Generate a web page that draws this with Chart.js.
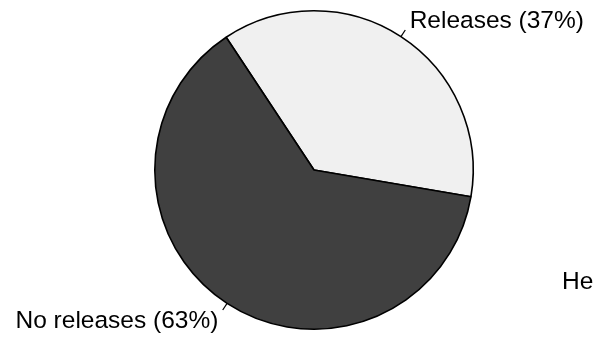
<!DOCTYPE html>
<html>
<head>
<meta charset="utf-8">
<script src="https://cdn.jsdelivr.net/npm/chart.js@4"></script>
<style>
  html, body { margin: 0; padding: 0; background: #fff; }
  #wrap { width: 593px; height: 340px; position: relative; }
</style>
</head>
<body>
<div id="wrap"><canvas id="pie"></canvas></div>
<script>
// release share data
const categories = ['Releases', 'No releases'];
const shares = [37, 63];
const sliceColors = ['#f0f0f0', '#404040'];
const strayText = 'He';

const FONT = '24.5px "Liberation Sans", Arial, sans-serif';

// leader ticks + labels placed just outside each slice
const pieLabels = {
    id: 'pieLabels',
    afterDatasetsDraw(chart) {
        const ctx = chart.ctx;
        const arcs = chart.getDatasetMeta(0).data;
        ctx.save();
        ctx.font = FONT;
        ctx.fillStyle = '#000';
        ctx.strokeStyle = '#000';
        ctx.lineWidth = 1.2;
        arcs.forEach((arc, i) => {
            const mid = (arc.startAngle + arc.endAngle) / 2;
            const r = arc.outerRadius;
            const cx = Math.cos(mid), cy = Math.sin(mid);
            ctx.beginPath();
            ctx.moveTo(arc.x + cx * r, arc.y + cy * r);
            ctx.lineTo(arc.x + cx * r * 1.05, arc.y + cy * r * 1.05);
            ctx.stroke();
            const tx = arc.x + cx * r * 1.1;
            const ty = arc.y + cy * r * 1.125 + 1;
            ctx.textAlign = cx >= 0 ? 'left' : 'right';
            ctx.textBaseline = 'middle';
            ctx.fillText(categories[i] + ' (' + shares[i] + '%)', tx, ty);
        });
        ctx.textAlign = 'left';
        ctx.textBaseline = 'alphabetic';
        ctx.fillText(strayText, 562, 289);
        ctx.restore();
    }
};

new Chart(document.getElementById('pie'), {
    type: 'pie',
    data: {
        labels: categories,
        datasets: [{
            data: shares,
            backgroundColor: sliceColors,
            borderColor: '#000',
            borderWidth: 1.6,
            borderAlign: 'center'
        }]
    },
    options: {
        responsive: true,
        maintainAspectRatio: false,
        animation: false,
        rotation: -33.5,
        layout: {
            padding: { left: 154, right: 119, top: 10, bottom: 10 }
        },
        plugins: {
            legend: { display: false },
            tooltip: { enabled: false }
        }
    },
    plugins: [pieLabels]
});
</script>
</body>
</html>
